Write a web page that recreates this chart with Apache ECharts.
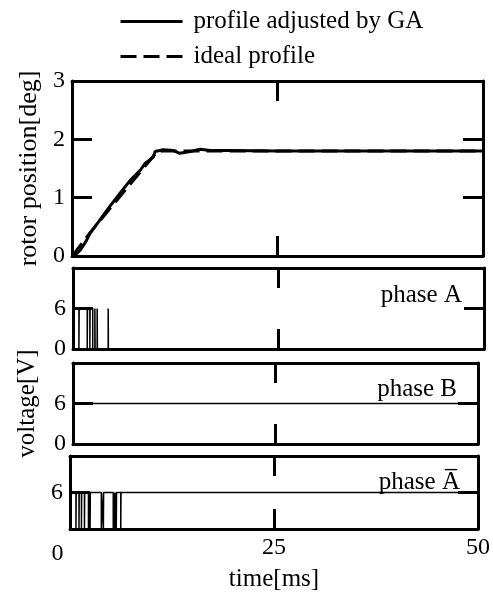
<!DOCTYPE html>
<html>
<head>
<meta charset="utf-8">
<script src="https://cdn.jsdelivr.net/npm/echarts@6/dist/echarts.min.js"></script>
<style>
  html, body { margin: 0; padding: 0; background: #fff; }
  #chart { width: 493px; height: 593px; }
</style>
</head>
<body>
<div id="chart"></div>
<script>
// Rotor position [deg] over time [ms]
const gaTime  = [0, 0.4, 1.0, 1.7, 2.2, 3.4, 4.6, 5.8, 7.1, 8.3, 8.9, 9.5, 9.9, 10.1, 11.1, 12.3, 13.1, 14.4, 15.6, 16.8, 19, 25, 50];
const gaPos   = [0, 0.02, 0.10, 0.25, 0.39, 0.62, 0.85, 1.07, 1.30, 1.47, 1.59, 1.65, 1.70, 1.79, 1.82, 1.81, 1.76, 1.79, 1.83, 1.81, 1.81, 1.80, 1.80];
const idealTime = [0, 0.3, 2.2, 10.3, 11.0, 50];
const idealPos  = [0, 0.05, 0.40, 1.78, 1.80, 1.80];

// Phase voltages [V]: switching instants [ms] and the level held from each instant
const phaseATime = [0, 0.72, 0.75, 1.73, 1.76, 2.05, 2.08, 2.40, 2.66, 2.69, 2.94, 2.97, 4.28, 4.31, 50];
const phaseAVolt = [6, 0, 6, 0, 6, 0, 6, 0, 6, 0, 6, 0, 6, 0, 0];
const phaseBTime = [0, 50];
const phaseBVolt = [6, 6];
const phaseAbarTime = [0, 0.73, 0.76, 1.10, 1.13, 1.40, 1.43, 1.77, 1.80, 2.26, 2.29, 2.46, 2.49, 3.84, 3.87, 4.09, 4.12, 5.30, 5.33, 5.49, 5.52, 5.67, 5.70, 6.22, 6.25, 50];
const phaseAbarVolt = [6, 0, 6, 0, 6, 0, 6, 0, 6, 0, 6, 0, 6, 0, 6, 0, 6, 0, 6, 0, 6, 0, 6, 0, 6, 6];

// Tick labels
const timeTicks = [0, 25, 50];
const posTicks = [0, 1, 2, 3];
const voltTicks = [0, 6];

const zip = (xs, ys) => xs.map((x, i) => [x, ys[i]]);

const FONT = '"Liberation Serif", "DejaVu Serif", serif';
const INK = '#000';

const grids = [
  { left: 72, right: 10, top: 81,  height: 175 },
  { left: 73, right: 9,  top: 268, height: 81 },
  { left: 73, right: 15, top: 363, height: 81 },
  { left: 70, right: 14, top: 456, height: 82 }
];

const frameLine = { show: true, onZero: false, lineStyle: { color: INK, width: 3 } };
const innerTick = { show: true, inside: true, length: 20, lineStyle: { color: INK, width: 3 } };

const xAxes = [];
const yAxes = [];
grids.forEach((g, i) => {
  const last = i === grids.length - 1;
  xAxes.push({
    type: 'value', gridIndex: i, position: 'bottom', min: 0, max: 50, interval: 25,
    axisLine: frameLine, axisTick: innerTick, splitLine: { show: false },
    axisLabel: {
      show: last, margin: 7, color: INK, fontFamily: FONT, fontSize: 24,
      formatter: v => timeTicks.includes(v) ? (v === 0 ? '{z|0}' : String(v)) : '',
      rich: { z: { fontFamily: FONT, fontSize: 24, color: INK, padding: [6, 25, 0, 0] } }
    },
    name: last ? 'time[ms]' : '', nameLocation: 'middle', nameGap: 35,
    nameTextStyle: { color: INK, fontFamily: FONT, fontSize: 25 }
  });
  xAxes.push({
    type: 'value', gridIndex: i, position: 'top', min: 0, max: 50, interval: 25,
    axisLine: frameLine, axisTick: innerTick, splitLine: { show: false },
    axisLabel: { show: false }
  });
  const isPos = i === 0;
  yAxes.push({
    type: 'value', gridIndex: i, position: 'left', min: 0, max: isPos ? 3 : 12, interval: isPos ? 1 : 6,
    axisLine: frameLine, axisTick: innerTick, splitLine: { show: false },
    axisLabel: {
      margin: 7, color: INK, fontFamily: FONT, fontSize: 24,
      formatter: v => {
        if (isPos) return posTicks.includes(v) ? String(v) : '';
        if (i === 3 && v === 0) return '';
        return voltTicks.includes(v) ? String(v) : '';
      }
    },
    name: isPos ? 'rotor position[deg]' : (i === 2 ? 'voltage[V]' : ''),
    nameLocation: 'middle', nameRotate: 90, nameGap: isPos ? 23 : 33,
    nameTextStyle: { color: INK, fontFamily: FONT, fontSize: isPos ? 26 : 25 }
  });
  yAxes.push({
    type: 'value', gridIndex: i, position: 'right', min: 0, max: isPos ? 3 : 12, interval: isPos ? 1 : 6,
    axisLine: frameLine, axisTick: innerTick, splitLine: { show: false },
    axisLabel: { show: false }
  });
});

const phaseTitle = (text, rightPx, centerY) => ({
  text, right: rightPx, top: centerY - 15,
  textStyle: { color: INK, fontFamily: FONT, fontSize: 25, fontWeight: 'normal' }
});

const option = {
  animation: false,
  backgroundColor: '#fff',
  title: [
    phaseTitle('phase A', 26, 293),
    phaseTitle('phase B', 31, 387),
    phaseTitle('phase A\u0305', 28, 480)
  ],
  legend: {
    orient: 'vertical', left: 114, top: 4,
    itemWidth: 62, itemHeight: 14, itemGap: 10,
    itemStyle: { opacity: 0 },
    lineStyle: { width: 3, color: INK },
    textStyle: { color: INK, fontFamily: FONT, fontSize: 25, padding: [0, 0, 0, 6] },
    data: ['profile adjusted by GA', 'ideal profile']
  },
  grid: grids,
  xAxis: xAxes,
  yAxis: yAxes,
  series: [
    {
      name: 'profile adjusted by GA', type: 'line', xAxisIndex: 0, yAxisIndex: 0,
      data: zip(gaTime, gaPos), symbol: 'none', smooth: false,
      lineStyle: { color: INK, width: 3 }, itemStyle: { color: INK }
    },
    {
      name: 'ideal profile', type: 'line', xAxisIndex: 0, yAxisIndex: 0,
      data: zip(idealTime, idealPos), symbol: 'none',
      lineStyle: { color: INK, width: 3, type: [16, 7] }, itemStyle: { color: INK }
    },
    {
      name: 'phase A', type: 'line', xAxisIndex: 2, yAxisIndex: 2, step: 'end',
      data: zip(phaseATime, phaseAVolt), symbol: 'none',
      lineStyle: { color: INK, width: 1.5 }
    },
    {
      name: 'phase B', type: 'line', xAxisIndex: 4, yAxisIndex: 4, step: 'end',
      data: zip(phaseBTime, phaseBVolt), symbol: 'none',
      lineStyle: { color: INK, width: 1.5 }
    },
    {
      name: 'phase A bar', type: 'line', xAxisIndex: 6, yAxisIndex: 6, step: 'end',
      data: zip(phaseAbarTime, phaseAbarVolt), symbol: 'none',
      lineStyle: { color: INK, width: 1.5 }
    }
  ]
};

const chart = echarts.init(document.getElementById('chart'), null, { renderer: 'canvas' });
chart.setOption(option);
</script>
</body>
</html>
